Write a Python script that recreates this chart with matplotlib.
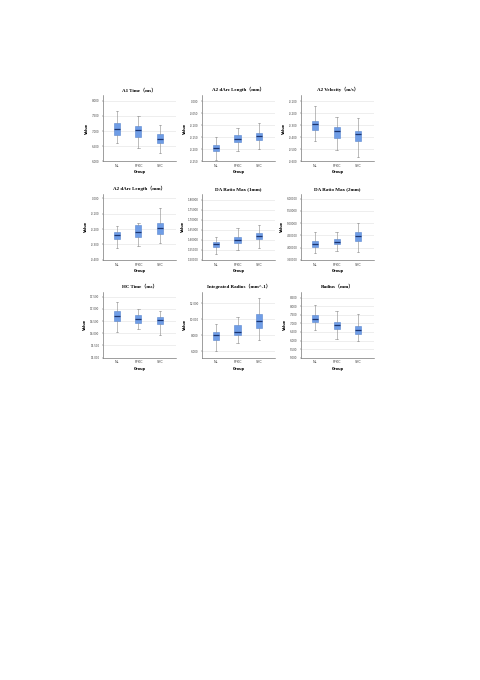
import matplotlib
matplotlib.use("Agg")
import matplotlib.pyplot as plt

groups = ["NL", "FFKC", "SKC"]

titles = [
    "A1 Time（ms）", "A2 dArc Length（mm）", "A2 Velocity（m/s）",
    "A2 dArc Length（mm）", "DA Ratio Max (1mm)", "DA Ratio Max (2mm)",
    "HC Time（ms）", "Integrated Radius（mm^-1）", "Radius（mm）",
]

# per panel, per group: [whisker low, q1, median, q3, whisker high]
a1_time = [[6.61, 6.86, 7.08, 7.27, 7.67],
           [6.45, 6.81, 7.03, 7.16, 7.50],
           [6.28, 6.59, 6.75, 6.90, 7.19]]
a2_darc = [[-0.246, -0.208, -0.194, -0.181, -0.151],
           [-0.208, -0.171, -0.156, -0.140, -0.110],
           [-0.200, -0.160, -0.144, -0.131, -0.089]]
a2_vel = [[-0.431, -0.342, -0.286, -0.261, -0.142],
          [-0.508, -0.403, -0.347, -0.317, -0.233],
          [-0.569, -0.433, -0.375, -0.350, -0.236]]
a2_darc2 = [[-0.322, -0.267, -0.239, -0.220, -0.180],
            [-0.311, -0.250, -0.217, -0.174, -0.163],
            [-0.289, -0.230, -0.193, -0.161, -0.063]]
da_1mm = [[1.528, 1.566, 1.579, 1.590, 1.613],
          [1.549, 1.582, 1.600, 1.615, 1.661],
          [1.559, 1.603, 1.620, 1.636, 1.674]]
da_2mm = [[3.773, 4.019, 4.156, 4.265, 4.634],
          [3.869, 4.128, 4.238, 4.333, 4.648],
          [3.801, 4.279, 4.484, 4.648, 4.989]]
hc_time = [[16.050, 16.506, 16.713, 16.920, 17.293],
           [16.188, 16.436, 16.588, 16.754, 16.975],
           [15.912, 16.367, 16.533, 16.657, 16.906]]
int_radius = [[6.043, 7.435, 8.000, 8.435, 9.391],
              [7.087, 8.087, 8.435, 9.261, 10.304],
              [7.391, 8.870, 9.826, 10.609, 12.609]]
radius = [[6.622, 7.085, 7.278, 7.471, 8.069],
          [6.081, 6.660, 6.911, 7.104, 7.703],
          [5.946, 6.390, 6.622, 6.853, 7.548]]

panel_data = [a1_time, a2_darc, a2_vel, a2_darc2, da_1mm, da_2mm,
              hc_time, int_radius, radius]

yticks = [
    [6.0, 6.5, 7.0, 7.5, 8.0],
    [-0.25, -0.20, -0.15, -0.10, -0.05, 0.0],
    [-0.6, -0.5, -0.4, -0.3, -0.2, -0.1],
    [-0.4, -0.3, -0.2, -0.1, 0.0],
    [1.50, 1.55, 1.60, 1.65, 1.70, 1.75, 1.80],
    [3.5, 4.0, 4.5, 5.0, 5.5, 6.0],
    [15.0, 15.5, 16.0, 16.5, 17.0, 17.5],
    [6.0, 8.0, 10.0, 12.0],
    [5.0, 5.5, 6.0, 6.5, 7.0, 7.5, 8.0, 8.5],
]
ylims = [
    (6.0, 8.19), (-0.25, 0.025), (-0.6, -0.05), (-0.4, 0.03),
    (1.5, 1.83), (3.5, 6.2), (15.0, 17.7), (5.22, 13.4), (5.0, 8.85),
]
tick_fmt = ["%.3f", "%.3f", "%.3f", "%.3f", "%.5f", "%.5f", "%.3f", "%.3f", "%.3f"]

fig = plt.figure(figsize=(4.81, 6.8), dpi=100)

lefts = [0.214, 0.42, 0.626]
bottoms = [0.763, 0.618, 0.474]
w, h = 0.152, 0.097

for i, data in enumerate(panel_data):
    r, c = divmod(i, 3)
    ax = fig.add_axes([lefts[c], bottoms[r], w, h])
    stats = []
    for g, vals in zip(groups, data):
        stats.append(dict(label=g, whislo=vals[0], q1=vals[1], med=vals[2],
                          q3=vals[3], whishi=vals[4], fliers=[]))
    ax.bxp(stats, positions=[1, 2, 3], widths=0.28, patch_artist=True,
           showfliers=False,
           boxprops=dict(facecolor="#6f9de6", edgecolor="#5a86cf", linewidth=0.4),
           medianprops=dict(color="#1c3570", linewidth=0.9),
           whiskerprops=dict(color="#8a8a8a", linewidth=0.4),
           capprops=dict(color="#8a8a8a", linewidth=0.4),
           capwidths=0.12)
    ax.set_xlim(0.35, 3.75)
    ax.set_ylim(*ylims[i])
    ax.set_yticks(yticks[i])
    ax.set_yticklabels([tick_fmt[i] % t for t in yticks[i]])
    ax.yaxis.grid(True, color="#e2e2e2", linewidth=0.4)
    ax.set_axisbelow(True)
    for s in ["top", "right"]:
        ax.spines[s].set_visible(False)
    for s in ["left", "bottom"]:
        ax.spines[s].set_linewidth(0.4)
        ax.spines[s].set_color("#555555")
    ax.tick_params(axis="both", labelsize=2, length=1, width=0.3, pad=1.5,
                   colors="#444444")
    ax.tick_params(axis="x", length=0, labelsize=2.4, pad=2)
    ax.set_title(titles[i], fontsize=3.6, fontweight="bold",
                 family=["Liberation Serif", "Noto Sans CJK SC"], pad=3)
    ax.set_xlabel("Group", fontsize=2.6, fontweight="bold", labelpad=1.5)
    ax.set_ylabel("Value", fontsize=2.6, fontweight="bold", labelpad=2)

fig.savefig("out.png", dpi=100)
